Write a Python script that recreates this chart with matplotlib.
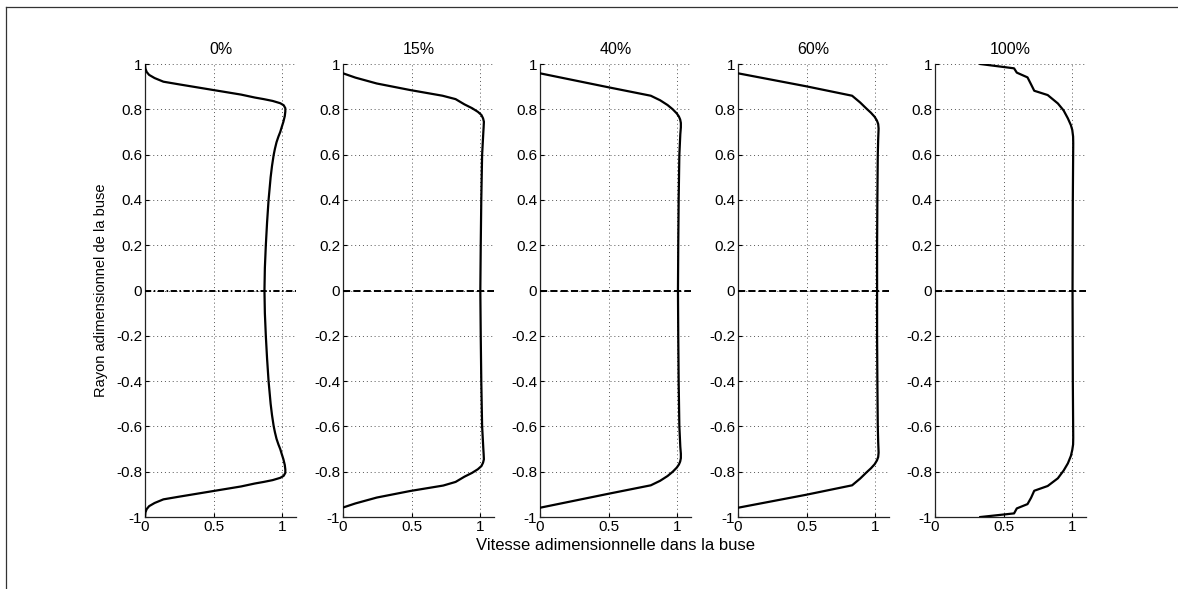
import matplotlib
matplotlib.use("Agg")
import matplotlib.pyplot as plt
from matplotlib.lines import Line2D

plt.rcParams['font.family'] = ['Liberation Sans', 'DejaVu Sans']
plt.rcParams['axes.unicode_minus'] = False

# Velocity profiles across the nozzle radius, one panel per case
titles = ['0%', '15%', '40%', '60%', '100%']

y_0 = [1.0, 0.98, 0.965, 0.952, 0.938, 0.922, 0.91, 0.885, 0.865, 0.852, 0.845, 0.837, 0.827,
       0.818, 0.805, 0.79, 0.77, 0.745, 0.72, 0.70, 0.68, 0.655, 0.625, 0.598, 0.55, 0.50,
       0.40, 0.30, 0.20, 0.10, 0.0,
       -0.10, -0.20, -0.30, -0.40, -0.50, -0.55, -0.598, -0.625, -0.655, -0.68, -0.70, -0.72,
       -0.745, -0.77, -0.79, -0.805, -0.818, -0.827, -0.837, -0.845, -0.852, -0.865, -0.885,
       -0.91, -0.922, -0.938, -0.952, -0.965, -0.98, -1.0]
x_0 = [0.0, 0.003, 0.012, 0.03, 0.07, 0.134, 0.25, 0.50, 0.70, 0.80, 0.865, 0.93, 0.985,
       1.01, 1.022, 1.022, 1.018, 1.008, 0.995, 0.985, 0.972, 0.958, 0.946, 0.937, 0.925, 0.915,
       0.90, 0.889, 0.880, 0.873, 0.870,
       0.873, 0.880, 0.889, 0.90, 0.915, 0.925, 0.937, 0.946, 0.958, 0.972, 0.985, 0.995,
       1.008, 1.018, 1.022, 1.022, 1.01, 0.985, 0.93, 0.865, 0.80, 0.70, 0.50,
       0.25, 0.134, 0.07, 0.03, 0.012, 0.003, 0.0]

y_15 = [0.959, 0.94, 0.914, 0.885, 0.86, 0.845, 0.822, 0.805, 0.789, 0.775, 0.76, 0.745, 0.72,
        0.70, 0.598, 0.4, 0.2, 0.0,
        -0.2, -0.4, -0.598, -0.70, -0.72, -0.745, -0.76, -0.775, -0.789, -0.805, -0.822,
        -0.845, -0.861, -0.885, -0.914, -0.94, -0.958]
x_15 = [0.0, 0.09, 0.246, 0.49, 0.725, 0.82, 0.884, 0.94, 0.982, 1.008, 1.02, 1.026, 1.024,
        1.022, 1.013, 1.007, 1.003, 1.0,
        1.003, 1.007, 1.013, 1.022, 1.024, 1.026, 1.02, 1.008, 0.982, 0.94, 0.884,
        0.82, 0.73, 0.49, 0.246, 0.09, 0.0]

y_40 = [0.959, 0.897, 0.86, 0.84, 0.819, 0.80, 0.782, 0.768, 0.755, 0.74, 0.72, 0.69, 0.598,
        0.4, 0.2, 0.0,
        -0.2, -0.4, -0.598, -0.69, -0.72, -0.74, -0.755, -0.768, -0.782, -0.80, -0.819, -0.84,
        -0.86, -0.897, -0.959]
x_40 = [0.0, 0.501, 0.807, 0.875, 0.929, 0.967, 0.996, 1.012, 1.021, 1.026, 1.026, 1.022, 1.015,
        1.01, 1.007, 1.005,
        1.007, 1.01, 1.015, 1.022, 1.026, 1.026, 1.021, 1.012, 0.996, 0.967, 0.929, 0.875,
        0.807, 0.501, 0.0]

y_60 = [0.959, 0.902, 0.86, 0.83, 0.804, 0.785, 0.767, 0.75, 0.735, 0.715, 0.67, 0.598,
        0.4, 0.2, 0.0,
        -0.2, -0.4, -0.598, -0.67, -0.715, -0.735, -0.75, -0.767, -0.785, -0.804, -0.83,
        -0.86, -0.902, -0.959]
x_60 = [0.0, 0.494, 0.831, 0.89, 0.934, 0.968, 0.995, 1.012, 1.021, 1.024, 1.021, 1.018,
        1.015, 1.013, 1.013,
        1.013, 1.015, 1.018, 1.021, 1.024, 1.021, 1.012, 0.995, 0.968, 0.934, 0.89,
        0.831, 0.494, 0.0]

y_100 = [1.0, 0.981, 0.962, 0.941, 0.91, 0.882, 0.863, 0.826, 0.795, 0.76, 0.73, 0.709, 0.68,
         0.65, 0.4, 0.0,
         -0.4, -0.65, -0.68, -0.704, -0.73, -0.763, -0.795, -0.829, -0.863, -0.884, -0.915,
         -0.943, -0.962, -0.984, -1.0]
x_100 = [0.33, 0.576, 0.596, 0.674, 0.70, 0.723, 0.821, 0.895, 0.937, 0.968, 0.99, 1.0, 1.006,
         1.007, 1.004, 1.002,
         1.004, 1.007, 1.006, 1.0, 0.99, 0.968, 0.937, 0.895, 0.821, 0.723, 0.70,
         0.674, 0.596, 0.576, 0.33]

profiles = [(x_0, y_0), (x_15, y_15), (x_40, y_40), (x_60, y_60), (x_100, y_100)]
axis_styles = [(0, (3.2, 1.3, 0.8, 1.3)), '--', '--', '--', '--']

x_ticks = [0, 0.5, 1]
x_ticklabels = ['0', '0.5', '1']
y_ticks = [-1, -0.8, -0.6, -0.4, -0.2, 0, 0.2, 0.4, 0.6, 0.8, 1]
y_ticklabels = ['-1', '-0.8', '-0.6', '-0.4', '-0.2', '0', '0.2', '0.4', '0.6', '0.8', '1']

fig = plt.figure(figsize=(11.78, 5.89), dpi=100)

lefts = [0.1231, 0.2912, 0.4584, 0.6265, 0.7937]
width = 0.1282
bottom = 0.1222
height = 0.7691

axes = []
for i, left in enumerate(lefts):
    ax = fig.add_axes([left, bottom, width, height])
    xs, ys = profiles[i]
    ax.plot(xs, ys, color='black', lw=1.6, solid_joinstyle='round', zorder=3)
    ax.plot([0, 1.1], [0, 0], color='black', lw=1.4, ls=axis_styles[i], zorder=3)
    ax.set_xlim(0, 1.1)
    ax.set_ylim(-1, 1)
    ax.set_xticks(x_ticks)
    ax.set_xticklabels(x_ticklabels)
    ax.set_yticks(y_ticks)
    ax.set_yticklabels(y_ticklabels)
    ax.grid(True, color='#555555', ls=(0, (1, 3)), lw=0.7)
    ax.spines['top'].set_visible(False)
    ax.spines['right'].set_visible(False)
    for side in ['left', 'bottom']:
        ax.spines[side].set_color('#222222')
        ax.spines[side].set_linewidth(0.9)
    ax.tick_params(direction='in', length=3, width=0.8, labelsize=11, pad=2, colors='black')
    ax.set_title(titles[i], fontsize=11.5, pad=7)
    axes.append(ax)

axes[0].set_ylabel('Rayon adimensionnel de la buse', fontsize=10.5, labelpad=6)
axes[2].set_xlabel('Vitesse adimensionnelle dans la buse', fontsize=12, labelpad=3)

# thin frame along the top and left edges
fig.add_artist(Line2D([6 / 1178, 1], [1 - 6.5 / 589] * 2, transform=fig.transFigure,
                      color='#333333', lw=0.9))
fig.add_artist(Line2D([6 / 1178] * 2, [0, 1 - 6.5 / 589], transform=fig.transFigure,
                      color='#333333', lw=0.9))

fig.savefig('out.png', dpi=100)
